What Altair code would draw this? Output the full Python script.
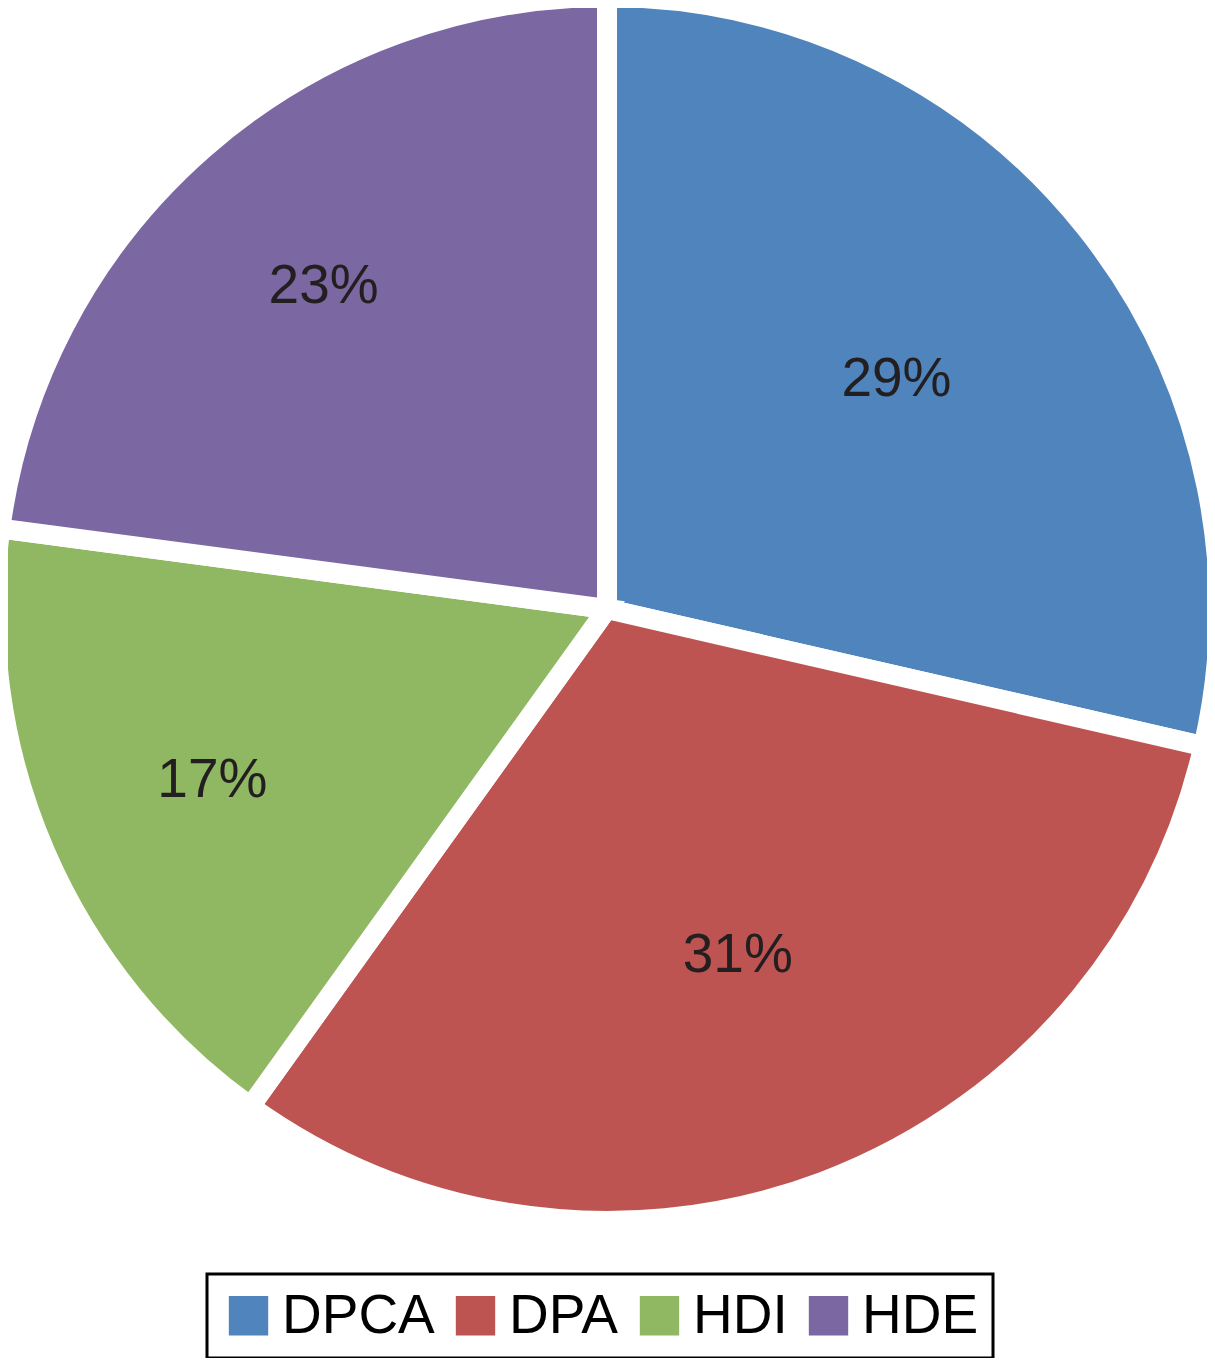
import altair as alt
import pandas as pd

categories = ["DPCA", "DPA", "HDI", "HDE"]
values = [28.6, 31.3, 17.2, 22.9]
labels = ["29%", "31%", "17%", "23%"]
colors = ["#4F84BD", "#BE5452", "#90B862", "#7B67A2"]

df = pd.DataFrame({
    "cat": categories,
    "val": values,
    "label": labels,
    "idx": list(range(len(categories))),
})

CX, CY = 599, 601

base = alt.Chart(df).encode(
    theta=alt.Theta("val:Q", stack=True),
    order=alt.Order("idx:Q"),
)

arcs = base.mark_arc(outerRadius=612, stroke="white", strokeWidth=20).encode(
    color=alt.Color(
        "cat:N",
        scale=alt.Scale(domain=categories, range=colors),
        sort=categories,
        legend=alt.Legend(
            title=None,
            orient="none",
            legendX=199,
            legendY=1266,
            direction="horizontal",
            columns=4,
        ),
    ),
    x=alt.value(CX),
    y=alt.value(CY),
)

text = base.mark_text(
    radius=alt.expr("datum.val < 25 ? 430 : 370"),
    font="Liberation Sans",
    fontSize=55,
    color="#231F20",
).encode(
    text="label:N",
    x=alt.value(CX),
    y=alt.value(CY),
)

chart = (
    alt.layer(arcs, text)
    .properties(width=1199, height=1350, autosize=alt.AutoSizeParams(type="none"), padding=0)
    .configure_view(stroke=None)
    .configure_legend(
        symbolType="square",
        symbolSize=1550,
        symbolStrokeWidth=0,
        labelFont="Liberation Sans",
        labelFontSize=55,
        labelColor="#000000",
        labelOffset=6,
        columnPadding=13,
        strokeColor="#000000",
        strokeWidth=3,
        padding=14,
        symbolOpacity=1,
    )
)

chart.save("out.html", embed_options={"renderer": "svg", "actions": False})
